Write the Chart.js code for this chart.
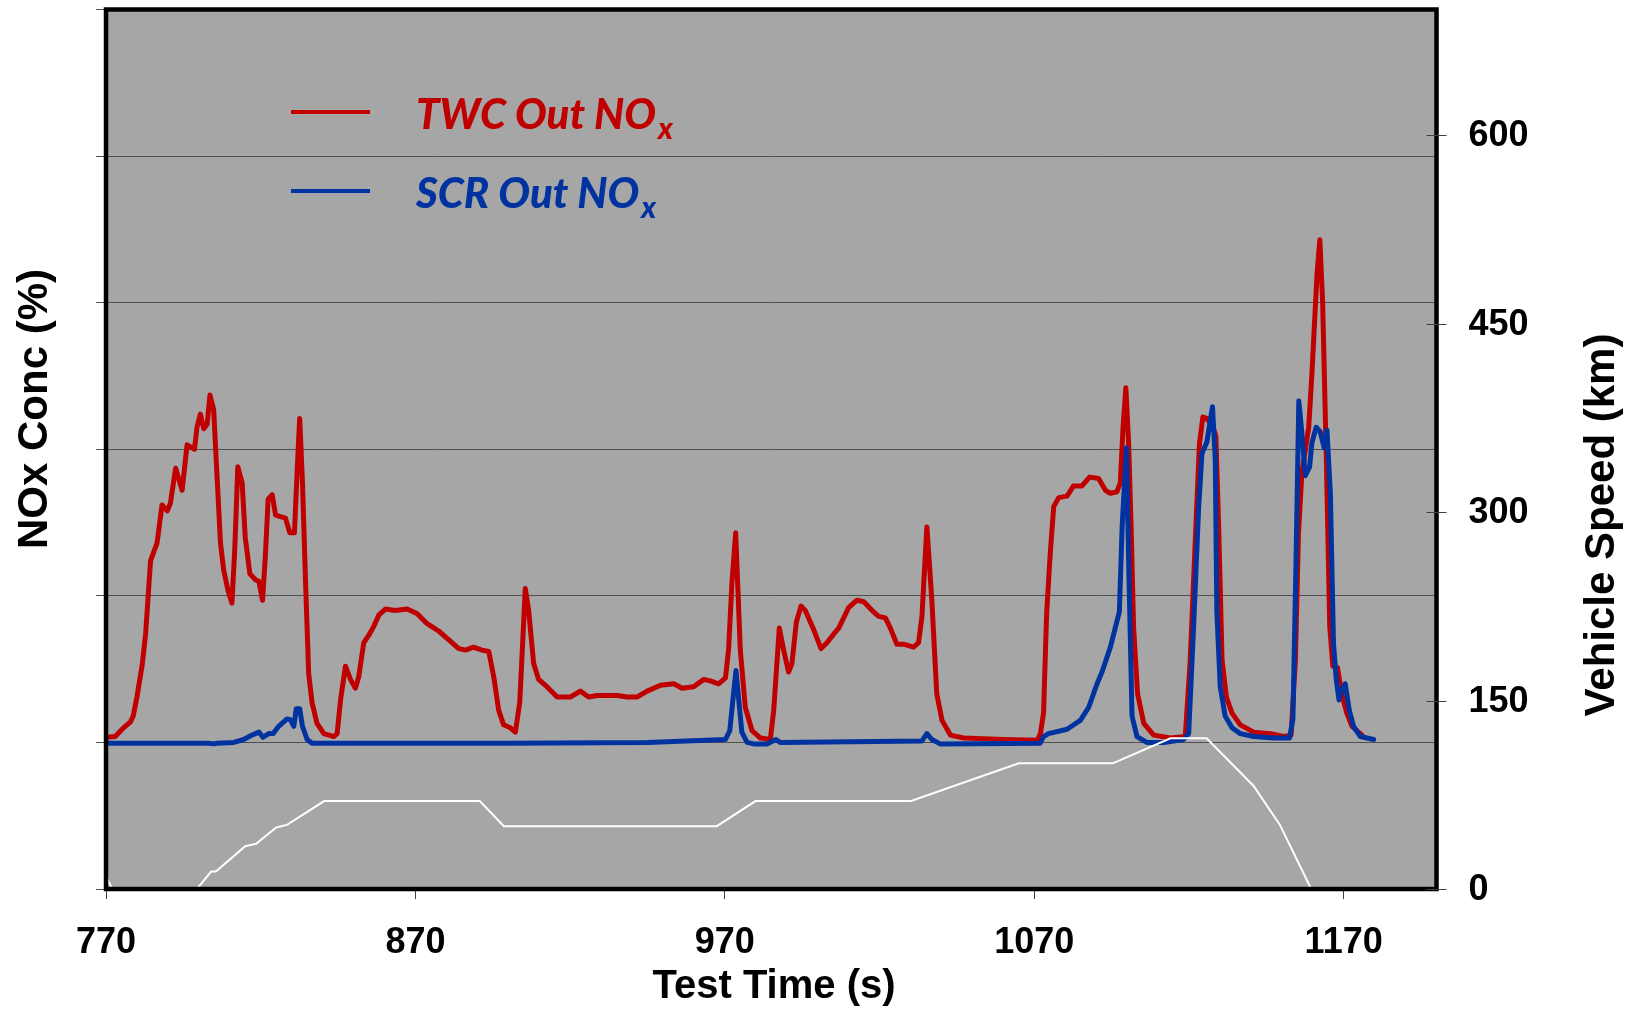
<!DOCTYPE html>
<html>
<head>
<meta charset="utf-8">
<title>NOx vs Test Time</title>
<script src="https://cdn.jsdelivr.net/npm/chart.js@4.4.1/dist/chart.umd.min.js"></script>
<style>
  html, body { margin: 0; padding: 0; background: #fff; }
  canvas { display: block; }
</style>
</head>
<body>
<canvas id="chart" width="1638" height="1013"></canvas>
<script>
// x axis labels (s)
const timeTicks = [770, 870, 970, 1070, 1170];
const speedTicks = [0, 150, 300, 450, 600];

// [time (s), NOx]
const twcOut = [
  [770, 1.036], [773, 1.04], [775.2, 1.09], [777.9, 1.14], [778.8, 1.18], [780, 1.31],
  [781.7, 1.53], [782.8, 1.74], [784.4, 2.24], [786.5, 2.36], [788.1, 2.62], [789.8, 2.58],
  [790.8, 2.63], [792.5, 2.87], [794.6, 2.72], [796.2, 3.03], [798.6, 3.0], [799.4, 3.15],
  [800.5, 3.24], [801.6, 3.14], [802.7, 3.17], [803.6, 3.37], [804.8, 3.27], [805.9, 2.81],
  [807, 2.36], [808, 2.18], [809.4, 2.04], [810.7, 1.95], [811.6, 2.31], [812.6, 2.88],
  [814, 2.77], [815, 2.40], [816.5, 2.15], [818.3, 2.11], [819.4, 2.10], [820.6, 1.97],
  [821.5, 2.27], [822.4, 2.66], [823.7, 2.69], [824.8, 2.55], [826.4, 2.54], [828, 2.53],
  [829.4, 2.43], [830.9, 2.43], [831.8, 2.86], [832.6, 3.21], [833.5, 2.77], [834.5, 2.09],
  [835.5, 1.47], [836.6, 1.27], [838.2, 1.13], [840.4, 1.06], [843.6, 1.04], [844.7, 1.06],
  [845.8, 1.29], [847.4, 1.52], [849, 1.43], [850.6, 1.37], [851.7, 1.45], [853.3, 1.68],
  [854.9, 1.73], [856.5, 1.79], [858.2, 1.87], [860.3, 1.91], [863.5, 1.90], [867.3, 1.91],
  [870.5, 1.88], [873.8, 1.81], [877.5, 1.76], [880.8, 1.70], [884, 1.64], [886.2, 1.63],
  [888.8, 1.65], [891.5, 1.63], [893.7, 1.62], [895.3, 1.45], [896.9, 1.22], [898.5, 1.12],
  [900.7, 1.10], [902.3, 1.07], [903.7, 1.27], [904.8, 1.74], [905.5, 2.05], [906.6, 1.90],
  [908.2, 1.54], [909.8, 1.43], [912.5, 1.38], [915.8, 1.31], [920.1, 1.31], [923.3, 1.35],
  [926, 1.31], [928.7, 1.32], [935.2, 1.32], [938.4, 1.31], [941.6, 1.31], [944.9, 1.35],
  [949.2, 1.39], [953.5, 1.40], [956.2, 1.37], [959.9, 1.38], [963.2, 1.43], [965.3, 1.42],
  [968, 1.40], [970.2, 1.44], [971.2, 1.63], [972.3, 2.09], [973.5, 2.43], [975, 1.63],
  [976.6, 1.24], [978.8, 1.08], [981.5, 1.03], [984.7, 1.02], [985.8, 1.22], [987.6, 1.78],
  [989, 1.63], [990.6, 1.48], [991.7, 1.54], [993.1, 1.82], [994.6, 1.93], [996, 1.90],
  [998.7, 1.77], [1001.1, 1.64], [1003, 1.68], [1005.2, 1.74], [1006.8, 1.78], [1010, 1.92],
  [1012.7, 1.97], [1014.9, 1.96], [1018.1, 1.89], [1019.7, 1.86], [1021.9, 1.85], [1023.5, 1.78],
  [1025.6, 1.67], [1027.8, 1.67], [1031, 1.65], [1032.6, 1.68], [1033.7, 1.86], [1035.3, 2.47],
  [1036.9, 1.97], [1038.5, 1.33], [1040.2, 1.15], [1042.9, 1.05], [1047.2, 1.03], [1060, 1.02],
  [1071, 1.015], [1072, 1.06], [1073, 1.2], [1074, 1.88], [1075.2, 2.3], [1076.3, 2.61],
  [1077.9, 2.67], [1080.6, 2.68], [1082.7, 2.75], [1085.4, 2.75], [1087.9, 2.81], [1090.8, 2.80],
  [1093, 2.72], [1094.6, 2.70], [1096.7, 2.71], [1097.8, 2.77], [1098.7, 3.15], [1099.6, 3.42],
  [1100.5, 3.04], [1101.3, 2.47], [1102.1, 1.79], [1103.4, 1.33], [1105.4, 1.13], [1108.6, 1.05],
  [1114, 1.03], [1118.8, 1.04], [1120.4, 1.56], [1122, 2.36], [1123.4, 3.04], [1124.5, 3.22],
  [1125.8, 3.21], [1127.8, 3.15], [1128.7, 3.09], [1129.6, 2.47], [1130.7, 1.56], [1132.1, 1.31],
  [1133.9, 1.20], [1136.6, 1.12], [1140.9, 1.07], [1146.3, 1.06], [1150.6, 1.04], [1153, 1.05],
  [1154.4, 1.56], [1155.4, 2.43], [1156.5, 2.84], [1158.7, 3.15], [1159.7, 3.5], [1161.4, 4.2],
  [1162.3, 4.43], [1163.2, 4.0], [1164.4, 2.93], [1165.5, 1.79], [1166.5, 1.52], [1168, 1.51],
  [1169.4, 1.33], [1171, 1.2], [1172.7, 1.11], [1175.9, 1.05]
];

const scrOut = [
  [770, 0.995], [803, 0.995], [805, 0.99], [806, 0.995], [811.3, 1.0], [814.5, 1.02],
  [816.7, 1.045], [819.4, 1.07], [820.8, 1.035], [822.6, 1.06], [824, 1.06], [825.8, 1.11],
  [828.5, 1.16], [829.6, 1.155], [830.7, 1.11], [831.5, 1.23], [832.6, 1.23], [833.5, 1.11],
  [835, 1.02], [836.6, 0.995], [900, 0.995], [945, 1.0], [970.2, 1.02], [971.6, 1.08],
  [972.6, 1.29], [973.6, 1.49], [974.5, 1.29], [975.5, 1.07], [977.2, 1.0], [979.3, 0.99],
  [983.6, 0.99], [986.5, 1.02], [987.9, 1.0], [1033.7, 1.01], [1035.3, 1.06], [1036.9, 1.02],
  [1039.6, 0.99], [1071.9, 0.995], [1073, 1.04], [1074.6, 1.06], [1080.6, 1.09], [1084.9, 1.15],
  [1087.6, 1.24], [1090.3, 1.40], [1091.9, 1.48], [1094.6, 1.65], [1097.5, 1.89], [1098.4, 2.47],
  [1099.8, 3.01], [1100.5, 2.24], [1101.6, 1.18], [1103.2, 1.04], [1106.4, 1.0], [1111.8, 1.0],
  [1118.3, 1.02], [1119.9, 1.06], [1121.5, 1.79], [1123.1, 2.59], [1124.2, 2.97], [1125.8, 3.05],
  [1127.6, 3.29], [1128.5, 2.93], [1129, 1.9], [1130.1, 1.38], [1131.7, 1.18], [1133.9, 1.10],
  [1136.6, 1.06], [1140.9, 1.04], [1147.4, 1.03], [1152.5, 1.03], [1153.6, 1.16], [1154.6, 2.24],
  [1155.5, 3.33], [1156.5, 3.11], [1157.6, 2.82], [1159, 2.88], [1159.7, 3.04], [1161.1, 3.15],
  [1162.4, 3.12], [1163.7, 3.01], [1164.6, 3.13], [1165.7, 2.70], [1166.7, 1.68], [1167.6, 1.43],
  [1168.5, 1.29], [1169.4, 1.36], [1170.5, 1.40], [1171.8, 1.22], [1173.2, 1.11], [1175.4, 1.04],
  [1179.7, 1.02]
];

// [time (s), speed]
const vehicleSpeed = [
  [770, 10], [772, 0], [799.4, 0], [804, 14], [805.5, 14], [815, 34], [818.5, 36],
  [825, 49], [828.5, 51], [840.5, 70], [890.8, 70], [898.6, 50], [967.4, 50], [979.9, 70],
  [1030.2, 70], [1065, 100], [1095.4, 100], [1114, 120], [1125.7, 120], [1140.9, 82],
  [1149.4, 51], [1159.5, 0], [1170, 0]
];

const toXY = arr => arr.map(p => ({ x: p[0], y: p[1] }));

const RED = "#C00000";
const BLUE = "#0033A0";
const AXIS_FONT = "'Liberation Sans', Arial, sans-serif";
const LEGEND_FONT = "Lato, 'Open Sans', sans-serif";

// gray plot background + thick black frame + right axis ticks and labels
const frame = {
  id: "frame",
  beforeDraw(chart) {
    const { ctx, chartArea: a } = chart;
    ctx.save();
    ctx.fillStyle = "#A6A6A6";
    ctx.fillRect(a.left, a.top, a.right - a.left, a.bottom - a.top);
    ctx.restore();
  },
  afterDatasetsDraw(chart) {
    const { ctx, chartArea: a } = chart;
    ctx.save();
    ctx.strokeStyle = "#000";
    ctx.lineWidth = 4.5;
    ctx.strokeRect(a.left, a.top, a.right - a.left, a.bottom - a.top);

    // right axis: ticks cross the frame, labels drawn here so they add no padding
    const y2 = chart.scales.y2;
    ctx.strokeStyle = "#404040";
    ctx.lineWidth = 1;
    ctx.fillStyle = "#000";
    ctx.font = "bold 36px " + AXIS_FONT;
    ctx.textAlign = "left";
    ctx.textBaseline = "middle";
    speedTicks.forEach(v => {
      const y = Math.round(y2.getPixelForValue(v)) + 0.5;
      ctx.beginPath();
      ctx.moveTo(a.right - 10, y);
      ctx.lineTo(a.right + 10, y);
      ctx.stroke();
      ctx.fillText(String(v), a.right + 32, y + 1);
    });
    ctx.restore();
  }
};

// legend with subscript x, and axis titles
const labels = {
  id: "labels",
  afterDraw(chart) {
    const { ctx } = chart;
    ctx.save();

    const entries = [
      { text: "TWC Out NO", color: RED, y: 112, base: 129 },
      { text: "SCR Out NO", color: BLUE, y: 191, base: 208 }
    ];
    entries.forEach(e => {
      ctx.strokeStyle = e.color;
      ctx.lineWidth = 4;
      ctx.beginPath();
      ctx.moveTo(291, e.y);
      ctx.lineTo(370, e.y);
      ctx.stroke();

      ctx.fillStyle = e.color;
      ctx.textBaseline = "alphabetic";
      ctx.textAlign = "left";
      ctx.font = "italic 900 42px " + LEGEND_FONT;
      ctx.fillText(e.text, 416, e.base);
      const w = ctx.measureText(e.text).width;
      ctx.font = "italic 900 30px " + LEGEND_FONT;
      ctx.fillText("x", 416 + w + 2, e.base + 10);
    });

    ctx.fillStyle = "#000";
    ctx.font = "bold 40px " + AXIS_FONT;
    ctx.textAlign = "center";
    ctx.textBaseline = "alphabetic";
    ctx.fillText("Test Time (s)", 774, 998);

    ctx.font = "bold 42px " + AXIS_FONT;
    ctx.save();
    ctx.translate(47, 409);
    ctx.rotate(-Math.PI / 2);
    ctx.fillText("NOx Conc (%)", 0, 0);
    ctx.restore();

    ctx.save();
    ctx.translate(1614, 525);
    ctx.rotate(-Math.PI / 2);
    ctx.fillText("Vehicle Speed (km)", 0, 0);
    ctx.restore();

    ctx.restore();
  }
};

const ctx = document.getElementById("chart").getContext("2d");

new Chart(ctx, {
  type: "line",
  data: {
    datasets: [
      {
        label: "Vehicle Speed",
        data: toXY(vehicleSpeed),
        yAxisID: "y2",
        borderColor: "#FFFFFF",
        borderWidth: 2,
        pointRadius: 0,
        tension: 0
      },
      {
        label: "SCR Out NOx",
        data: toXY(scrOut),
        yAxisID: "y",
        borderColor: BLUE,
        borderWidth: 5,
        pointRadius: 0,
        tension: 0,
        borderJoinStyle: "round",
        borderCapStyle: "round"
      },
      {
        label: "TWC Out NOx",
        data: toXY(twcOut),
        yAxisID: "y",
        borderColor: RED,
        borderWidth: 5,
        pointRadius: 0,
        tension: 0,
        borderJoinStyle: "round",
        borderCapStyle: "round"
      }
    ]
  },
  options: {
    responsive: false,
    animation: false,
    layout: { padding: { top: 9.5 } },
    plugins: {
      legend: { display: false },
      tooltip: { enabled: false }
    },
    scales: {
      x: {
        type: "linear",
        min: 770,
        max: 1200,
        afterBuildTicks: s => { s.ticks = timeTicks.map(v => ({ value: v })); },
        afterFit: s => { s.height = 124; },
        border: { display: false },
        grid: { drawOnChartArea: false, tickLength: 10, color: "#404040" },
        ticks: {
          autoSkip: false,
          maxRotation: 0,
          padding: 22,
          color: "#000",
          callback: v => String(v),
          font: { family: AXIS_FONT, size: 36, weight: "bold" }
        }
      },
      y: {
        position: "left",
        min: 0,
        max: 6,
        afterFit: s => { s.width = 106; },
        border: { display: false },
        grid: { color: "#505050", lineWidth: 1, tickLength: 10 },
        ticks: { stepSize: 1, display: false }
      },
      y2: {
        position: "right",
        min: 0,
        max: 700,
        afterBuildTicks: s => { s.ticks = speedTicks.map(v => ({ value: v })); },
        afterFit: s => { s.width = 201.5; },
        border: { display: false },
        grid: { display: false },
        ticks: { display: false }
      }
    }
  },
  plugins: [frame, labels]
});
</script>
</body>
</html>
